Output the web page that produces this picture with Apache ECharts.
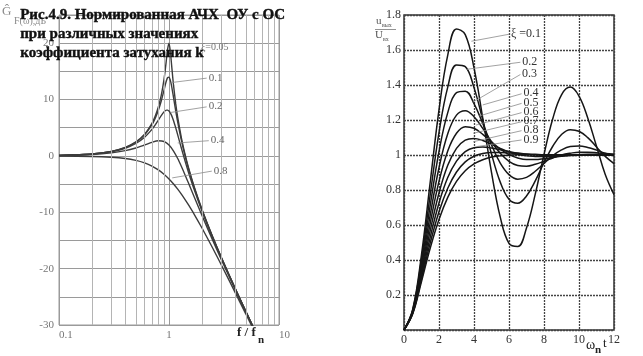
<!DOCTYPE html>
<html><head><meta charset="utf-8">
<script src="https://cdn.jsdelivr.net/npm/echarts@6/dist/echarts.min.js"></script>
<style>html,body{margin:0;padding:0;background:#fff}#c{width:643px;height:356px}</style>
</head><body><div id="c"></div>
<script>
// ---------- Left panel: normalized magnitude response, dB ----------
const freqsFine = [0.1,0.2,0.3,0.4,0.5,0.6,0.7,0.75,0.8,0.85,0.9,0.93,0.95,0.97,1.0,1.03,1.05,1.08,1.1,1.15,1.2,1.3,1.4,1.5,1.7,2,2.5,3,4,5,6];
const gain005 = [0.09,0.35,0.81,1.50,2.48,3.84,5.77,7.06,8.67,10.75,13.55,15.70,17.32,18.89,20.0,18.44,16.67,14.05,12.50,9.31,6.82,3.07,0.26,-2.00,-5.57,-9.56,-14.41,-18.07,-23.53,-27.61,-30.88];
const gain01  = [0.09,0.35,0.80,1.48,2.42,3.73,5.53,6.70,8.09,9.75,11.64,12.77,13.41,13.86,13.98,13.36,12.63,11.29,10.34,8.04,6.00,2.65,0.00,-2.18,-5.67,-9.62,-14.44,-18.09,-23.53,-27.61,-30.89];
const gain02  = [0.08,0.33,0.74,1.36,2.20,3.31,4.70,5.51,6.35,7.15,7.81,8.05,8.13,8.12,7.96,7.61,7.28,6.69,6.24,5.01,3.73,1.27,-0.92,-2.84,-6.06,-9.84,-14.56,-18.16,-23.57,-27.63,-30.90];
const freqsCoarse = [0.1,0.2,0.3,0.4,0.5,0.6,0.7,0.8,0.9,1.0,1.1,1.2,1.3,1.4,1.5,1.7,2,2.5,3,4,5,6];
const gain04  = [0.06,0.24,0.53,0.93,1.41,1.94,2.41,2.68,2.56,1.94,0.87,-0.47,-1.93,-3.38,-4.78,-7.34,-10.63,-14.99,-18.44,-23.72,-27.72,-30.96];
const gain08  = [-0.03,-0.10,-0.25,-0.47,-0.80,-1.24,-1.80,-2.48,-3.24,-4.08,-4.97,-5.89,-6.82,-7.74,-8.65,-10.40,-12.84,-16.39,-19.40,-24.25,-28.06,-31.20];
const minorFreqs = [0.2,0.3,0.4,0.5,0.6,0.7,0.8,0.9,2,3,4,5,6,7,8,9];
const leftNames = ['0.1','0.2','0.4','0.8'];
const leftLeaders = [[1.04,13.0,2.2,13.8],[1.03,7.7,2.2,8.7],[1.2,2.3,2.3,2.7],[1.07,-3.9,2.45,-2.7]];
const leftTopLabel = ['ξ=0.05', 1.95, 19.2];

// ---------- Right panel: step responses ----------
const tSteps = [0,0.5,1,1.5,2,2.5,3,3.5,4,4.5,5,5.5,6,6.5,7,7.5,8,8.5,9,9.5,10,10.5,11,11.5,12];
const step01 = [0,0.119,0.431,0.846,1.258,1.571,1.720,1.688,1.498,1.211,0.901,0.645,0.495,0.477,0.583,0.776,1.003,1.207,1.344,1.388,1.337,1.212,1.050,0.889,0.774];
const step02 = [0,0.115,0.405,0.775,1.128,1.388,1.515,1.505,1.385,1.201,1.006,0.845,0.747,0.724,0.766,0.852,0.956,1.050,1.117,1.145,1.136,1.099,1.046,0.992,0.951];
const step03 = [0,0.111,0.381,0.713,1.019,1.242,1.356,1.365,1.294,1.180,1.057,0.954,0.888,0.862,0.872,0.907,0.952,0.996,1.029,1.048,1.051,1.043,1.028,1.010,0.996];
const step04 = [0,0.108,0.360,0.658,0.927,1.122,1.228,1.253,1.219,1.152,1.076,1.010,0.964,0.940,0.936,0.947,0.964,0.983,1.000,1.010,1.016,1.016,1.013,1.008,1.004];
const step05 = [0,0.104,0.340,0.611,0.849,1.023,1.124,1.162,1.153,1.118,1.075,1.034,1.002,0.983,0.974,0.974,0.979,0.986,0.993,0.999,1.002,1.004,1.004,1.004,1.003];
const step06 = [0,0.101,0.322,0.569,0.783,0.941,1.038,1.085,1.095,1.083,1.061,1.038,1.018,1.004,0.995,0.992,0.991,0.992,0.995,0.997,0.999,1.000,1.001,1.001,1.001];
const step07 = [0,0.098,0.306,0.531,0.726,0.871,0.965,1.019,1.042,1.046,1.040,1.030,1.020,1.011,1.005,1.001,0.999,0.998,0.998,0.998,0.999,0.999,1.000,1.000,1.000];
const step08 = [0,0.096,0.291,0.498,0.676,0.810,0.903,0.961,0.993,1.009,1.015,1.015,1.012,1.009,1.006,1.004,1.002,1.001,1.000,1.000,1.000,1.000,1.000,1.000,1.000];
const step09 = [0,0.093,0.277,0.469,0.632,0.758,0.849,0.910,0.949,0.973,0.988,0.995,0.999,1.001,1.001,1.001,1.001,1.001,1.001,1.000,1.000,1.000,1.000,1.000,1.000];
const rightNames = ['ξ =0.1','0.2','0.3','0.4','0.5','0.6','0.7','0.8','0.9'];
const rightLeaders = [[3.85,1.65,6.0,1.69],[3.6,1.49,6.65,1.53],[3.9,1.30,6.65,1.46],[4.5,1.286,6.72,1.35],[4.3,1.223,6.72,1.295],[4.11,1.171,6.72,1.242],[3.96,1.124,6.72,1.19],[3.96,1.076,6.72,1.139],[4.15,1.048,6.72,1.086]];

const SERIF = '"Liberation Serif","Times New Roman",serif';
const chart = echarts.init(document.getElementById('c'), null, {renderer:'canvas'});

function leader(arr, name, color, size){
  return {
    silent:true, symbol:['none','none'], animation:false,
    lineStyle:{color:'#8a8a8a', width:0.8, type:'solid'},
    label:{show:true, position:'end', distance:2, formatter:name, color:color, fontSize:size, fontFamily:SERIF},
    emphasis:{disabled:true},
    data:[[{coord:[arr[0],arr[1]]},{coord:[arr[2],arr[3]]}]]
  };
}
const zip = (xs, ys) => xs.map((x,i)=>[x, ys[i]]);

const series = [];
series.push({
  type:'line', xAxisIndex:0, yAxisIndex:0, data:[], silent:true,
  markLine:{silent:true, symbol:['none','none'], animation:false, label:{show:false},
    lineStyle:{color:'#b4b4b4', width:1, type:'solid'}, emphasis:{disabled:true},
    data:minorFreqs.map(f=>({xAxis:f}))}
});
const leftSets = [[freqsFine,gain005],[freqsFine,gain01],[freqsFine,gain02],[freqsCoarse,gain04],[freqsCoarse,gain08]];
leftSets.forEach((s,i)=>{
  const o = {type:'line', xAxisIndex:0, yAxisIndex:0, data:zip(s[0],s[1]), showSymbol:false, smooth:0.25,
    lineStyle:{color:'#3c3c3c', width:1.4}, silent:true, z:3};
  if(i>0) o.markLine = leader(leftLeaders[i-1], leftNames[i-1], '#666', 11);
  else o.markPoint = {symbol:'circle', symbolSize:0, silent:true, animation:false,
    label:{show:true, position:'right', distance:0, formatter:leftTopLabel[0], color:'#777', fontSize:10, fontFamily:SERIF},
    data:[{coord:[leftTopLabel[1], leftTopLabel[2]]}]};
  series.push(o);
});
const steps = [step01,step02,step03,step04,step05,step06,step07,step08,step09];
steps.forEach((s,i)=>{
  series.push({type:'line', xAxisIndex:1, yAxisIndex:1, data:zip(tSteps,s), showSymbol:false, smooth:0.4,
    lineStyle:{color:'#161616', width:1.5}, silent:true, z:3,
    markLine: leader(rightLeaders[i], rightNames[i], '#333', 12)});
});

const option = {
  animation:false,
  grid:[
    {left:59, right:364, top:15, bottom:31, show:true, borderColor:'#9a9a9a', borderWidth:1, backgroundColor:'transparent'},
    {left:404, right:29, top:15, bottom:26, show:true, borderColor:'#333', borderWidth:1.5, backgroundColor:'transparent'}
  ],
  xAxis:[
    {type:'log', logBase:10, min:0.1, max:10, gridIndex:0,
      axisLine:{show:false}, axisTick:{show:false},
      splitLine:{show:true, lineStyle:{color:'#9a9a9a', width:1}},
      axisLabel:{color:'#777', fontSize:11, fontFamily:SERIF, margin:5, alignMinLabel:'left', alignMaxLabel:'left',
        formatter:v=>String(Math.round(v*10)/10)}},
    {type:'value', min:0, max:12, interval:2, gridIndex:1,
      axisLine:{show:false}, axisTick:{show:false},
      splitLine:{show:true, lineStyle:{color:'#444', width:1.3, type:[2,1]}},
      axisLabel:{color:'#333', fontSize:12, fontFamily:SERIF, margin:4}}
  ],
  yAxis:[
    {type:'value', min:-30, max:25, interval:5, gridIndex:0,
      axisLine:{show:false}, axisTick:{show:false},
      splitLine:{show:true, lineStyle:{color:'#9a9a9a', width:1}},
      axisLabel:{color:'#777', fontSize:11, fontFamily:SERIF, margin:5,
        formatter:v=>(v%10===0 ? String(v) : '')}},
    {type:'value', min:0, max:1.8, interval:0.2, gridIndex:1,
      axisLine:{show:false}, axisTick:{show:false},
      splitLine:{show:true, lineStyle:{color:'#444', width:1.3, type:[2,1]}},
      axisLabel:{color:'#333', fontSize:12, fontFamily:SERIF, margin:3,
        formatter:v=>(v===0 ? '' : String(Math.round(v*10)/10))}}
  ],
  series:series,
  graphic:[
    {type:'text', left:20, top:7, z:100, style:{text:'Рис.4.9. Нормированная АЧХ  ОУ с ОС', font:'bold 15px '+SERIF, fill:'#111', stroke:'#111', lineWidth:0.4}},
    {type:'text', left:20, top:26, z:100, style:{text:'при различных значениях', font:'bold 15px '+SERIF, fill:'#111', stroke:'#111', lineWidth:0.4}},
    {type:'text', left:20, top:45, z:100, style:{text:'коэффициента затухания k', font:'bold 15px '+SERIF, fill:'#111', stroke:'#111', lineWidth:0.4}},
    {type:'text', left:2, top:5, z:90, style:{text:'Ĝ', font:'13px '+SERIF, fill:'#8a8a8a'}},
    {type:'text', left:14, top:16, z:90, style:{text:'F(ω),дБ', font:'10px '+SERIF, fill:'#8a8a8a'}},
    {type:'text', left:376, top:16, z:90, style:{text:'u', font:'11px '+SERIF, fill:'#555'}},
    {type:'text', left:382, top:22, z:90, style:{text:'вых', font:'6px '+SERIF, fill:'#555'}},
    {type:'line', z:90, shape:{x1:375, y1:29.5, x2:396, y2:29.5}, style:{stroke:'#777', lineWidth:0.8}},
    {type:'text', left:375, top:30, z:90, style:{text:'U', font:'11px '+SERIF, fill:'#555'}},
    {type:'text', left:383, top:36, z:90, style:{text:'вх', font:'6px '+SERIF, fill:'#555'}},
    {type:'text', left:237, top:326, z:90, style:{text:'f / f', font:'bold 13px '+SERIF, fill:'#222'}},
    {type:'text', left:258, top:335, z:90, style:{text:'n', font:'bold 11px '+SERIF, fill:'#222'}},
    {type:'text', left:586, top:338, z:90, style:{text:'ω', font:'14px '+SERIF, fill:'#222'}},
    {type:'text', left:595, top:345, z:90, style:{text:'n', font:'bold 11px '+SERIF, fill:'#222'}},
    {type:'text', left:603, top:337, z:90, style:{text:'t', font:'13px '+SERIF, fill:'#222'}}
  ]
};
chart.setOption(option);
</script></body></html>
